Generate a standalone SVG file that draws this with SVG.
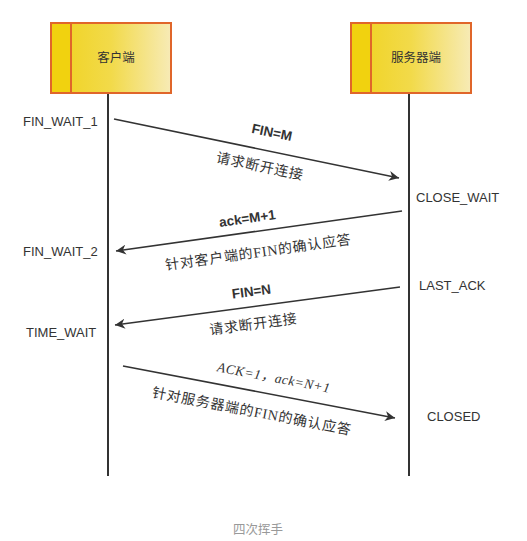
<svg xmlns="http://www.w3.org/2000/svg" width="527" height="541" viewBox="0 0 527 541">
<style>
.box{stroke:#e0662a;stroke-width:2}
.lane{fill:#f1d20f}
.life{stroke:#333;stroke-width:2;fill:none}
.msg{stroke:#333;stroke-width:1.6;fill:none;marker-end:url(#ah)}
.nt{font-family:"Noto Sans CJK SC","Liberation Sans",sans-serif;font-size:12.5px;fill:#333;text-anchor:middle}
.st{font-family:"Liberation Sans",Arial,sans-serif;font-size:13px;fill:#333}
.lb{font-family:"Liberation Sans",Arial,sans-serif;font-size:13.5px;font-weight:bold;fill:#333;text-anchor:middle}
.cn{font-family:"Noto Sans CJK SC",sans-serif;font-size:14px;letter-spacing:0.8px;fill:#333;text-anchor:middle}
.cnf{font-family:"Liberation Serif","Noto Sans CJK SC",serif}
.sf{font-family:"Liberation Serif","Noto Sans CJK SC",serif;font-size:13.5px;font-style:oblique;letter-spacing:0.5px;fill:#333;text-anchor:middle}
.cap{font-family:"Noto Sans CJK SC",sans-serif;font-size:12.5px;fill:#999;text-anchor:middle}
</style>
<defs>
<linearGradient id="g" x1="0" y1="0" x2="1" y2="0">
<stop offset="0" stop-color="#f0d21c"/>
<stop offset="0.5" stop-color="#f2da4a"/>
<stop offset="1" stop-color="#f7ebb6"/>
</linearGradient>
<marker id="ah" viewBox="0 0 10 10" refX="10" refY="5" markerWidth="10" markerHeight="10" markerUnits="userSpaceOnUse" orient="auto">
<path d="M0,0 L10,5 L0,10 L3,5 z" fill="#333"/>
</marker>
</defs>
<rect width="527" height="541" fill="#fff"/>
<g id="client">
<rect class="box" x="51" y="23" width="120" height="70" fill="url(#g)"/>
<rect class="box lane" x="51" y="23" width="20" height="70"/>
<text class="nt" x="116" y="62">客户端</text>
</g>
<g id="server">
<rect class="box" x="351" y="23" width="120" height="70" fill="url(#g)"/>
<rect class="box lane" x="351" y="23" width="20" height="70"/>
<text class="nt" x="416" y="62">服务器端</text>
</g>
<g id="lifelines">
<line class="life" x1="108" y1="94" x2="108" y2="476"/>
<line class="life" x1="409" y1="94" x2="409" y2="476"/>
</g>
<g id="states">
<text class="st" x="23" y="126">FIN_WAIT_1</text>
<text class="st" x="23" y="256">FIN_WAIT_2</text>
<text class="st" x="26" y="337">TIME_WAIT</text>
<text class="st" x="416" y="202">CLOSE_WAIT</text>
<text class="st" x="419" y="290">LAST_ACK</text>
<text class="st" x="427" y="421">CLOSED</text>
</g>
<g id="connectors">
<line class="msg" x1="114" y1="119" x2="399" y2="178"/>
<text class="lb" transform="translate(271,137) rotate(11.7)">FIN=M</text>
<text class="cn" transform="translate(259,171) rotate(11.7)">请求断开连接</text>
<line class="msg" x1="402" y1="211" x2="116" y2="251"/>
<text class="lb" transform="translate(248,223) rotate(-8)">ack=M+1</text>
<text class="cn" transform="translate(259,257) rotate(-8)">针对客户端的<tspan class="cnf">FIN</tspan>的确认应答</text>
<line class="msg" x1="400" y1="287" x2="115" y2="325"/>
<text class="lb" transform="translate(252,296) rotate(-7.6)">FIN=N</text>
<text class="cn" transform="translate(254,329) rotate(-7.6)">请求断开连接</text>
<line class="msg" x1="123" y1="366" x2="395" y2="418"/>
<text class="sf" transform="translate(273,382) rotate(10.8)">ACK=1，ack=N+1</text>
<text class="cn" transform="translate(251,416) rotate(10.8)">针对服务器端的<tspan class="cnf">FIN</tspan>的确认应答</text>
</g>
<text class="cap" x="258" y="534">四次挥手</text>
</svg>
